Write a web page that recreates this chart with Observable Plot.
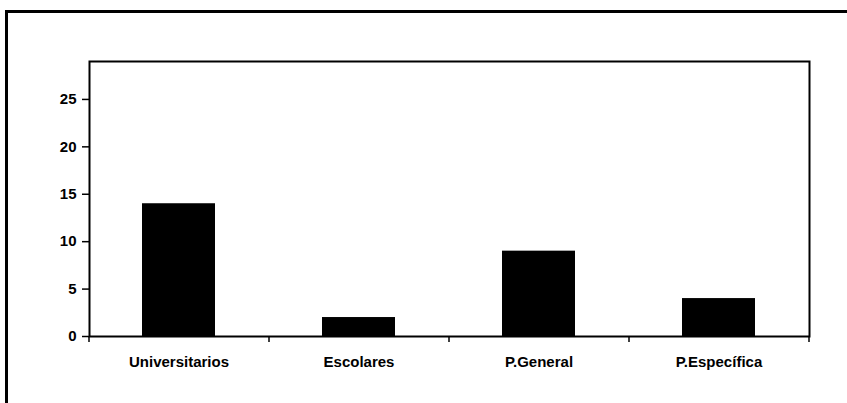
<!DOCTYPE html>
<html>
<head>
<meta charset="utf-8">
<script src="https://cdn.jsdelivr.net/npm/d3@7"></script>
<script src="https://cdn.jsdelivr.net/npm/@observablehq/plot@0.6"></script>
<style>
  html, body { margin: 0; padding: 0; background: #fff; overflow: hidden; }
  #wrap { position: relative; width: 847px; height: 403px; }
  #outer { position: absolute; left: 5px; top: 10px; width: 900px; height: 500px;
           border-left: 3px solid #000; border-top: 3px solid #000; box-sizing: border-box; }
  #chart { position: absolute; left: 0; top: 0; }
</style>
</head>
<body>
<div id="wrap"><div id="outer"></div><div id="chart"></div></div>
<script>
const categories = ["Universitarios", "Escolares", "P.General", "P.Específica"];
const values = [14, 2, 9, 4];
const yTicks = [0, 5, 10, 15, 20, 25];

const data = categories.map((c, i) => ({category: c, value: values[i]}));

const W = 847, H = 403, ML = 89, MR = 38, MT = 61, MB = 67;
const bw = (W - ML - MR) / categories.length;
const padIn = 0.594;

const chart = Plot.plot({
  width: W,
  height: H,
  marginLeft: ML,
  marginRight: MR,
  marginTop: MT,
  marginBottom: MB,
  style: {fontFamily: "'Liberation Sans', Arial, sans-serif", fontSize: "15px", fontWeight: "bold", color: "#000", background: "transparent"},
  x: {domain: categories, paddingInner: padIn, paddingOuter: padIn / 2, align: 0.5},
  y: {domain: [0, 29]},
  marks: [
    Plot.barY(data, {x: "category", y: "value", fill: "#000"}),
    Plot.frame({stroke: "#000", strokeWidth: 2}),
    Plot.axisY({ticks: yTicks, tickSize: 7, tickPadding: 6, strokeWidth: 1.5, label: null, fontWeight: "bold"}),
    Plot.axisX({ticks: categories, tickSize: 6, text: null, dx: -bw / 2, strokeWidth: 1.5, label: null}),
    Plot.axisX({ticks: categories.slice(-1), tickSize: 6, text: null, dx: bw / 2, strokeWidth: 1.5, label: null}),
    Plot.axisX({ticks: categories, tickSize: 0, tickPadding: 20, label: null, fontWeight: "bold"})
  ]
});
document.getElementById("chart").appendChild(chart);
</script>
</body>
</html>
